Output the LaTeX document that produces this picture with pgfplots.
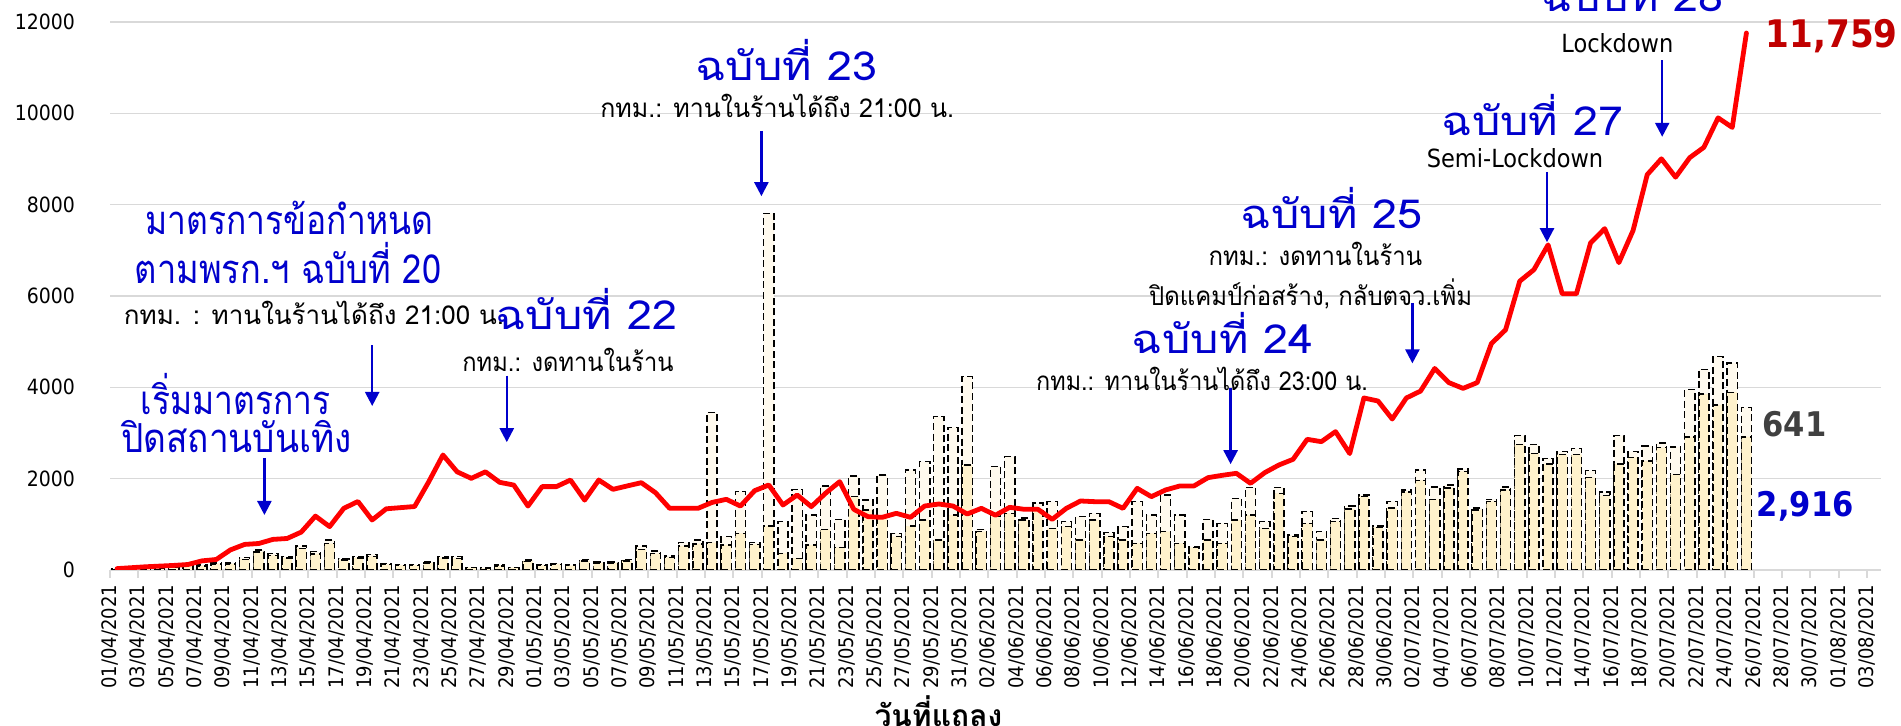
\documentclass[border=0pt]{standalone}
\usepackage{pgfplots}
\pgfplotsset{compat=1.18}
\usepackage{pgfplotstable}
\usepackage{graphicx}
\usepackage{fontspec}
\setmainfont{DejaVu Sans Condensed}
\newfontfamily\thai[Script=Thai]{Loma}
\usetikzlibrary{arrows.meta}
\definecolor{cream}{RGB}{255,242,204}
\definecolor{ivory}{RGB}{255,250,238}
\definecolor{myblue}{RGB}{0,0,204}
\definecolor{myred}{RGB}{192,0,0}
\definecolor{gridc}{RGB}{217,217,217}
\definecolor{dgray}{RGB}{64,64,64}
\newcommand\hs[2]{\scalebox{#1}[1]{#2}}

\pgfplotstableread{
d total cream line
0 20 15 30
1 30 25 50
2 40 30 70
3 50 40 85
4 60 50 100
5 120 100 120
6 110 90 200
7 150 130 230
8 150 130 440
9 270 230 560
10 440 390 580
11 360 320 670
12 300 260 690
13 530 470 830
14 400 350 1180
15 655 580 950
16 250 220 1350
17 290 260 1500
18 340 300 1095
19 140 120 1340
20 120 100 1365
21 120 100 1390
22 180 150 1934
23 300 260 2518
24 290 250 2150
25 60 50 2007
26 45 35 2150
27 110 90 1920
28 60 50 1860
29 220 190 1400
30 120 100 1825
31 145 125 1825
32 110 95 1970
33 230 200 1530
34 170 150 1970
35 170 150 1766
36 230 200 1840
37 525 450 1912
38 420 360 1693
39 310 270 1350
40 600 520 1350
41 655 570 1350
42 3445 600 1480
43 730 547 1547
44 1715 803 1400
45 600 560 1737
46 7810 963 1861
47 1058 365 1423
48 1766 255 1642
49 1204 547 1387
50 1839 890 1679
51 1109 496 1934
52 2058 1606 1328
53 1533 1314 1168
54 2080 1168 1153
55 803 730 1241
56 2190 963 1153
57 2372 1095 1401
58 3358 657 1445
59 3124 1204 1401
60 4233 2299 1226
61 890 840 1350
62 2263 1168 1200
63 2482 1241 1372
64 1140 1095 1330
65 1470 1330 1328
66 1496 912 1109
67 1058 950 1350
68 1168 657 1511
69 1241 1095 1496
70 818 730 1496
71 949 657 1350
72 1496 584 1788
73 1204 803 1606
74 1642 839 1752
75 1204 584 1839
76 511 490 1839
77 1109 657 2022
78 1022 584 2073
79 1569 1095 2117
80 1810 1204 1898
81 1058 912 2131
82 1810 1679 2299
83 766 730 2423
84 1277 1022 2861
85 839 657 2810
86 1131 1058 3030
87 1403 1336 2550
88 1646 1604 3767
89 959 934 3700
90 1504 1353 3306
91 1755 1713 3767
92 2191 1965 3918
93 1822 1546 4413
94 1856 1797 4103
95 2216 2157 3977
96 1353 1319 4103
97 1546 1504 4958
98 1822 1755 5259
99 2945 2744 6324
100 2744 2551 6575
101 2442 2325 7120
102 2593 2526 6047
103 2660 2526 6047
104 2174 2023 7162
105 1713 1629 7475
106 2945 2325 6730
107 2593 2468 7434
108 2719 2384 8657
109 2778 2677 9004
110 2694 2090 8602
111 3951 2912 9029
112 4395 3850 9256
113 4671 3615 9901
114 4537 3892 9691
115 3557 2916 11759
}\data

\begin{document}
\begin{tikzpicture}
\begin{axis}[
  at={(55pt,78pt)}, anchor=south west,
  width=885.5pt, height=274pt, scale only axis,
  xmin=0, xmax=125, ymin=0, ymax=12000,
  axis lines*=left,
  y axis line style={draw=none},
  x axis line style={draw=gridc, line width=1pt},
  xtick={0,2,...,124},
  xticklabels={01/04/2021,03/04/2021,05/04/2021,07/04/2021,09/04/2021,11/04/2021,13/04/2021,15/04/2021,17/04/2021,19/04/2021,21/04/2021,23/04/2021,25/04/2021,27/04/2021,29/04/2021,
  01/05/2021,03/05/2021,05/05/2021,07/05/2021,09/05/2021,11/05/2021,13/05/2021,15/05/2021,17/05/2021,19/05/2021,21/05/2021,23/05/2021,25/05/2021,27/05/2021,29/05/2021,31/05/2021,
  02/06/2021,04/06/2021,06/06/2021,08/06/2021,10/06/2021,12/06/2021,14/06/2021,16/06/2021,18/06/2021,20/06/2021,22/06/2021,24/06/2021,26/06/2021,28/06/2021,30/06/2021,
  02/07/2021,04/07/2021,06/07/2021,08/07/2021,10/07/2021,12/07/2021,14/07/2021,16/07/2021,18/07/2021,20/07/2021,22/07/2021,24/07/2021,26/07/2021,28/07/2021,30/07/2021,
  01/08/2021,03/08/2021},
  xticklabel style={font=\fontsize{10}{12}\selectfont, rotate=90, anchor=east},
  x tick style={draw=gridc, line width=1pt},
  tick align=outside, major tick length=4pt,
  ytick={0,2000,...,12000},
  y tick style={draw=none},
  yticklabel style={font=\fontsize{10.5}{12}\selectfont, xshift=-10pt},
  scaled y ticks=false,
  /pgf/number format/1000 sep={},
  /pgf/number format/assume math mode=true,
  ymajorgrids, grid style={draw=gridc, line width=0.75pt},
]
\addplot[ybar, bar width=0.72, bar shift=0pt, fill=ivory, draw=black, line width=0.75pt, dash pattern=on 3.5pt off 1.8pt]
  table[x expr=\thisrow{d}+0.5, y=total] {\data};
\addplot[ybar, bar width=0.72, bar shift=0pt, fill=cream, draw=black, line width=0.75pt, dash pattern=on 3.5pt off 1.8pt]
  table[x expr=\thisrow{d}+0.5, y=cream] {\data};
\addplot[color=red, line width=2.4pt, line join=round, line cap=round, mark=none]
  table[x expr=\thisrow{d}+0.5, y=line] {\data};
\end{axis}

\tikzset{head/.style={font=\thai\fontsize{20}{24}\selectfont, text=myblue, inner sep=0pt},
         sub/.style={font=\thai\fontsize{13}{15}\selectfont, text=black, inner sep=0pt},
         arr/.style={draw=myblue, line width=1.2pt, -{Triangle[width=7pt,length=7pt]}}}

\node[head] at (144.6pt,254pt) {\hs{0.84}{มาตรการข้อกำหนด}};
\node[head] at (144pt,231.6pt) {\hs{0.86}{ตามพรก.ฯ ฉบับที่ 20}};
\node[sub] at (157pt,206.7pt) {กทม. : ทานในร้านได้ถึง 21:00 น.};
\draw[arr] (186.1pt,190.3pt) -- (186.1pt,160pt);
\node[head] at (117.9pt,166.1pt) {\hs{0.84}{เริ่มมาตรการ}};
\node[head] at (118.2pt,144.9pt) {\hs{0.88}{ปิดสถานบันเทิง}};
\draw[arr] (132.2pt,134pt) -- (132.2pt,105.5pt);

\node[head] at (293.1pt,208.5pt) {\hs{1.12}{ฉบับที่ 22}};
\node[sub] at (284pt,183.1pt) {\hs{0.91}{กทม.: งดทานในร้าน}};
\draw[arr] (253.4pt,175.2pt) -- (253.4pt,141.9pt);

\node[head] at (393.1pt,332.8pt) {\hs{1.12}{ฉบับที่ 23}};
\node[sub] at (388.6pt,309.8pt) {\hs{0.96}{กทม.: ทานในร้านได้ถึง 21:00 น.}};
\draw[arr] (380.7pt,297.6pt) -- (380.7pt,264.9pt);

\node[head] at (665.9pt,258.8pt) {\hs{1.12}{ฉบับที่ 25}};
\node[sub] at (657.7pt,235.8pt) {\hs{0.92}{กทม.: งดทานในร้าน}};
\node[sub] at (655.3pt,215.8pt) {\hs{0.92}{ปิดแคมป์ก่อสร้าง, กลับตจว.เพิ่ม}};
\draw[arr] (706.2pt,211.6pt) -- (706.2pt,181.3pt);

\node[head] at (611.4pt,196.4pt) {\hs{1.12}{ฉบับที่ 24}};
\node[sub] at (601pt,173.4pt) {\hs{0.9}{กทม.: ทานในร้านได้ถึง 23:00 น.}};
\draw[arr] (615.3pt,169.1pt) -- (615.3pt,130.9pt);

\node[head] at (766.2pt,305.5pt) {\hs{1.12}{ฉบับที่ 27}};
\node[font=\fontsize{12.5}{14}\selectfont, inner sep=0pt] at (757.5pt,283.7pt) {Semi-Lockdown};
\draw[arr] (773.5pt,277pt) -- (773.5pt,241.9pt);

\node[head, anchor=base] at (816.3pt,357pt) {\hs{1.12}{ฉบับที่ 28}};
\node[font=\fontsize{12.5}{14}\selectfont, inner sep=0pt] at (808.7pt,341.3pt) {Lockdown};
\draw[arr] (831.1pt,332.8pt) -- (831.1pt,294.6pt);

\node[font=\bfseries\fontsize{19}{22}\selectfont, text=myred, inner sep=0pt, anchor=east] at (949pt,344.9pt) {11,759};
\node[font=\bfseries\fontsize{17}{20}\selectfont, text=dgray, inner sep=0pt] at (897.2pt,150.9pt) {641};
\node[font=\bfseries\fontsize{17}{20}\selectfont, text=myblue, inner sep=0pt] at (902.6pt,109.7pt) {2,916};
\node[font=\thai\bfseries\fontsize{15}{18}\selectfont, inner sep=0pt] at (469.2pt,7.3pt) {วันที่แถลง};

\pgfresetboundingbox
\useasboundingbox (0,0) rectangle (950.5pt,363pt);
\end{tikzpicture}
\end{document}
